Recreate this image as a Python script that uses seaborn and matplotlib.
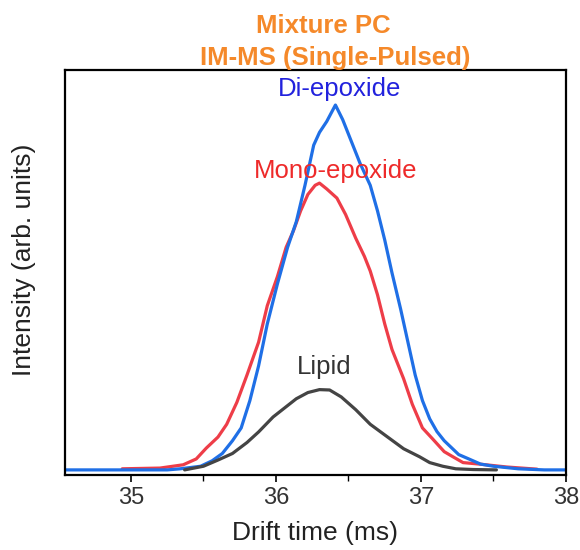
import matplotlib
matplotlib.use("Agg")
import matplotlib.pyplot as plt
import seaborn as sns
import pandas as pd

# ---- data ----
di_t = [34.545, 35.25, 35.34, 35.48, 35.56, 35.63, 35.70, 35.76, 35.82, 35.88, 35.94, 36.01,
        36.08, 36.14, 36.20, 36.26, 36.30, 36.35, 36.41, 36.46, 36.52, 36.58, 36.65, 36.70,
        36.75, 36.80, 36.86, 36.91, 36.96, 37.01, 37.06, 37.11, 37.16, 37.26, 37.33, 37.41,
        37.50, 37.67, 37.85, 38.0]
di_v = [0.0, 0.0, 0.003, 0.010, 0.025, 0.045, 0.080, 0.115, 0.190, 0.285, 0.400, 0.510,
        0.610, 0.680, 0.780, 0.890, 0.925, 0.955, 1.0, 0.960, 0.900, 0.840, 0.780, 0.710,
        0.630, 0.540, 0.440, 0.350, 0.260, 0.190, 0.140, 0.105, 0.080, 0.042, 0.030, 0.016,
        0.010, 0.003, 0.0, 0.0]

mono_t = [34.94, 35.20, 35.36, 35.45, 35.52, 35.60, 35.66, 35.73, 35.80, 35.88, 35.94, 36.01,
          36.07, 36.12, 36.17, 36.22, 36.27, 36.30, 36.35, 36.42, 36.48, 36.55, 36.61, 36.65,
          36.70, 36.75, 36.80, 36.88, 36.94, 37.01, 37.08, 37.16, 37.22, 37.29, 37.40, 37.59,
          37.80]
mono_v = [0.003, 0.005, 0.014, 0.030, 0.060, 0.090, 0.125, 0.185, 0.260, 0.350, 0.450, 0.530,
          0.610, 0.655, 0.710, 0.755, 0.780, 0.786, 0.770, 0.745, 0.700, 0.635, 0.585, 0.545,
          0.480, 0.400, 0.330, 0.250, 0.180, 0.115, 0.085, 0.050, 0.036, 0.020, 0.016, 0.008,
          0.002]

lipid_t = [35.37, 35.50, 35.60, 35.70, 35.80, 35.88, 35.98, 36.06, 36.14, 36.22, 36.30, 36.37,
           36.45, 36.55, 36.65, 36.77, 36.88, 36.99, 37.06, 37.15, 37.24, 37.36, 37.52]
lipid_v = [0.0, 0.010, 0.027, 0.045, 0.075, 0.104, 0.145, 0.170, 0.195, 0.212, 0.220, 0.219,
           0.200, 0.165, 0.125, 0.090, 0.058, 0.036, 0.020, 0.010, 0.003, 0.001, 0.0]

series_names = ["Di-epoxide", "Mono-epoxide", "Lipid"]
x_ticks = [35, 36, 37, 38]
title_lines = ["Mixture PC", "IM-MS (Single-Pulsed)"]

# ---- plot ----
sns.set_theme(style="white")
plt.rcParams['font.family'] = ['Liberation Sans', 'DejaVu Sans']

fig = plt.figure(figsize=(5.8, 5.5), dpi=100)
ax = fig.add_axes([65/580, 1 - 475/550, (566-65)/580, (475-70)/550])

df_di = pd.DataFrame({"t": di_t, "v": di_v})
df_mono = pd.DataFrame({"t": mono_t, "v": mono_v})
df_lip = pd.DataFrame({"t": lipid_t, "v": lipid_v})

sns.lineplot(data=df_mono, x="t", y="v", ax=ax, color="#ee3d48", lw=2.3, sort=False, estimator=None)
sns.lineplot(data=df_di, x="t", y="v", ax=ax, color="#1f6fe6", lw=2.3, sort=False, estimator=None)
sns.lineplot(data=df_lip, x="t", y="v", ax=ax, color="#444444", lw=2.3, sort=False, estimator=None)

ax.set_xlim(34.545, 38.0)
ax.set_ylim(-0.014, 1.096)
ax.set_xticks(x_ticks)
ax.set_xticklabels([str(t) for t in x_ticks])
ax.set_xticks([35.5, 36.5, 37.5], minor=True)
ax.set_yticks([])
ax.tick_params(axis='x', which='major', direction='out', length=5, width=1.2,
               color='black', labelsize=17, labelcolor='#333333', pad=4, bottom=True)
ax.tick_params(axis='x', which='minor', direction='out', length=4, width=1.0,
               color='black', bottom=True)

for s in ax.spines.values():
    s.set_color('black')
    s.set_linewidth(1.6)
    s.set_visible(True)

ax.set_xlabel("Drift time (ms)", fontsize=19, color='#222222', labelpad=8)
ax.set_ylabel("Intensity (arb. units)", fontsize=19, color='#222222')
ax.yaxis.set_label_coords(-0.058, 0.531)

# annotations
ax.text(36.44, 1.025, series_names[0], color="#2222dd", fontsize=18.5, ha='center', va='baseline')
ax.text(36.41, 0.800, series_names[1], color="#ee2a2a", fontsize=18.5, ha='center', va='baseline')
ax.text(36.33, 0.262, series_names[2], color="#333333", fontsize=18.5, ha='center', va='baseline')

fig.text(323/580, 1 - 33/550, title_lines[0], color="#f5892a", fontsize=18.5, fontweight='bold',
         ha='center', va='baseline')
fig.text(335/580, 1 - 65/550, title_lines[1], color="#f5892a", fontsize=18.5, fontweight='bold',
         ha='center', va='baseline')

fig.savefig("out.png", dpi=100)
